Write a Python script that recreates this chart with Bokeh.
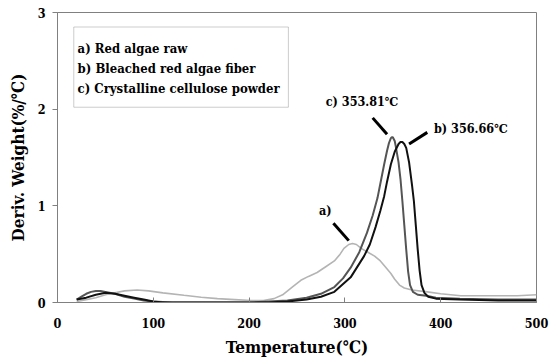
from bokeh.plotting import figure
from bokeh.models import Label, BoxAnnotation, FixedTicker, Range1d
from bokeh.embed import file_html
from bokeh.resources import INLINE

# ---- data ----
# a) Red algae raw (light gray)
temp_a = [20, 30, 40, 50, 60, 70, 83, 95, 110, 132, 150, 167, 185, 202, 215, 226, 235,
          245, 254, 262, 271, 280, 289, 295, 299, 304, 308, 312, 317, 324, 331, 337,
          343, 348, 352, 357, 362, 370, 386, 400, 421, 450, 480, 500]
deriv_a = [0.01, 0.03, 0.05, 0.08, 0.10, 0.12, 0.13, 0.12, 0.10, 0.075, 0.055, 0.04, 0.03,
           0.02, 0.02, 0.04, 0.08, 0.16, 0.23, 0.27, 0.31, 0.37, 0.43, 0.50, 0.56, 0.60,
           0.61, 0.60, 0.56, 0.52, 0.48, 0.43, 0.36, 0.30, 0.24, 0.18, 0.15, 0.13, 0.11,
           0.09, 0.07, 0.07, 0.07, 0.08]

# b) Bleached red algae fiber (black)
temp_b = [20, 30, 40, 50, 60, 70, 80, 90, 100, 110, 150, 200, 220, 240, 260, 275, 289,
          306, 320, 326, 332, 337, 341, 344, 348, 352, 356, 358, 360, 362, 364, 367,
          370, 372, 374, 376, 378, 380, 383, 387, 395, 420, 460, 500]
deriv_b = [0.03, 0.05, 0.08, 0.10, 0.09, 0.07, 0.05, 0.03, 0.01, 0.0, 0.0, 0.0, 0.0, 0.01,
           0.03, 0.06, 0.11, 0.26, 0.48, 0.60, 0.78, 0.95, 1.10, 1.25, 1.43, 1.56, 1.64,
           1.66, 1.66, 1.64, 1.60, 1.45, 1.22, 1.05, 0.80, 0.55, 0.33, 0.18, 0.10, 0.06,
           0.04, 0.03, 0.02, 0.02]

# c) Crystalline cellulose powder (dark gray)
temp_c = [20, 25, 30, 35, 40, 45, 50, 60, 70, 80, 90, 100, 120, 150, 200, 220, 240, 260,
          275, 289, 298, 306, 315, 323, 329, 334, 338, 341, 344, 346, 348, 349, 350, 352,
          353, 356, 358, 360, 362, 364, 366, 368, 371, 376, 385, 395, 420, 460, 500]
deriv_c = [0.03, 0.06, 0.09, 0.11, 0.12, 0.12, 0.11, 0.09, 0.06, 0.04, 0.02, 0.01, 0.0,
           0.0, 0.0, 0.01, 0.02, 0.05, 0.09, 0.16, 0.25, 0.36, 0.52, 0.72, 0.90, 1.08,
           1.28, 1.43, 1.57, 1.65, 1.70, 1.71, 1.71, 1.67, 1.62, 1.45, 1.28, 1.05, 0.80,
           0.55, 0.32, 0.18, 0.11, 0.08, 0.07, 0.05, 0.04, 0.03, 0.03]

x_ticks = [0, 100, 200, 300, 400, 500]
y_ticks = [0, 1, 2, 3]

legend_lines = ["a) Red algae raw", "b) Bleached red algae fiber", "c) Crystalline cellulose powder"]
peak_labels = ["a)", "b) 356.66\u2103", "c) 353.81\u2103"]

FONT = "DejaVu Serif Condensed"

p = figure(width=554, height=360, x_range=Range1d(0, 500), y_range=Range1d(0, 3),
           output_backend="svg", toolbar_location=None,
           min_border_left=57, min_border_right=18, min_border_top=12, min_border_bottom=58)
p.grid.visible = False
p.outline_line_color = "#808080"
p.background_fill_color = "white"
p.border_fill_color = "white"

for ax in (p.xaxis[0], p.yaxis[0]):
    ax.axis_line_color = "#808080"
    ax.major_tick_line_color = "#808080"
    ax.minor_tick_line_color = None
    ax.major_label_text_font = FONT
    ax.major_label_text_font_style = "bold"
    ax.major_label_text_font_size = "12.5px"
    ax.major_label_text_color = "black"
    ax.axis_label_text_font = FONT
    ax.axis_label_text_font_style = "bold"
    ax.axis_label_text_color = "black"

p.xaxis.ticker = FixedTicker(ticks=x_ticks)
p.yaxis.ticker = FixedTicker(ticks=y_ticks)
p.xaxis.major_tick_in = 5
p.xaxis.major_tick_out = 0
p.xaxis.major_label_standoff = 15
p.xaxis.axis_label = "Temperature(\u2103)"
p.xaxis.axis_label_text_font_size = "17px"
p.xaxis.axis_label_standoff = 6
p.yaxis.major_tick_in = 0
p.yaxis.major_tick_out = 5
p.yaxis.major_label_standoff = 7
p.yaxis.axis_label = "Deriv. Weight(%/\u2103)"
p.yaxis.axis_label_text_font_size = "17px"
p.yaxis.axis_label_standoff = 7

p.line(temp_a, deriv_a, line_color="#b4b4b4", line_width=1.6)
p.line(temp_c, deriv_c, line_color="#555555", line_width=2)
p.line(temp_b, deriv_b, line_color="#111111", line_width=2)

# legend-like text box
p.add_layout(BoxAnnotation(left=17, right=241, top=2.85, bottom=2.02,
                           fill_color="white", fill_alpha=1.0,
                           line_color="#555555", line_width=1))
for i, t in enumerate(legend_lines):
    p.add_layout(Label(x=21, y=2.63 - i * 0.21, text=t, text_font=FONT,
                       text_font_style="bold", text_font_size="13px",
                       text_baseline="middle", text_color="black"))

# peak annotations
label_pos_x = [273, 393, 280]
label_pos_y = [0.95, 1.80, 2.08]
for t, lx, ly in zip(peak_labels, label_pos_x, label_pos_y):
    p.add_layout(Label(x=lx, y=ly, text=t, text_font=FONT, text_font_style="bold",
                       text_font_size="12.5px", text_baseline="middle", text_color="black"))

arrow_x0 = [288, 386, 329]
arrow_y0 = [0.82, 1.76, 1.91]
arrow_x1 = [304, 367, 344]
arrow_y1 = [0.64, 1.64, 1.74]
p.segment(arrow_x0, arrow_y0, arrow_x1, arrow_y1, line_color="black", line_width=3)

open("out.html", "w").write(file_html(p, INLINE))
